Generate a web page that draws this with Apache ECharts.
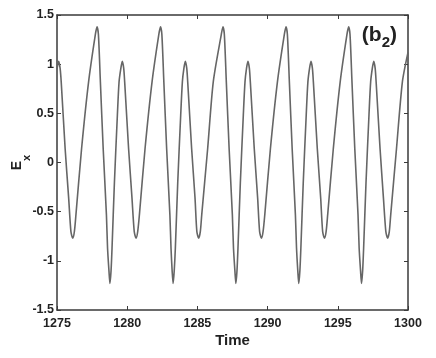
<!DOCTYPE html>
<html>
<head>
<meta charset="utf-8">
<script src="https://cdn.jsdelivr.net/npm/echarts@6/dist/echarts.min.js"></script>
<style>html,body{margin:0;padding:0;background:#fff;}#c{width:436px;height:358px;}</style>
</head>
<body>
<div id="c"></div>
<script>
// Time / E_x samples (extrema, tips and points along the flanks)
var times = [
  1275, 1275.12, 1275.22, 1275.3, 1275.58, 1275.83, 1275.99, 1276.12, 1276.24,
  1276.35, 1276.75, 1277.25, 1277.73, 1277.85, 1277.95, 1278.09, 1278.29, 1278.52, 1278.6, 1278.7, 1278.77, 1278.85, 1278.92, 1279.09, 1279.3, 1279.42, 1279.55, 1279.65, 1279.75, 1279.82, 1280.1, 1280.34, 1280.5, 1280.63, 1280.75,
  1280.87, 1281.27, 1281.77, 1282.25, 1282.37, 1282.47, 1282.61, 1282.81, 1283.04, 1283.12, 1283.2, 1283.27, 1283.35, 1283.43, 1283.6, 1283.81, 1283.93, 1284.04, 1284.14, 1284.24, 1284.31, 1284.59, 1284.83, 1284.96, 1285.09, 1285.21,
  1285.31, 1285.73, 1286.13, 1286.7, 1286.82, 1286.92, 1287.06, 1287.26, 1287.49, 1287.57, 1287.67, 1287.74, 1287.82, 1287.89, 1288.06, 1288.27, 1288.39, 1288.5, 1288.6, 1288.7, 1288.77, 1289.05, 1289.29, 1289.43, 1289.56, 1289.68,
  1289.8, 1290.2, 1290.7, 1291.19, 1291.31, 1291.41, 1291.55, 1291.75, 1291.98, 1292.06, 1292.15, 1292.22, 1292.3, 1292.37, 1292.54, 1292.75, 1292.87, 1292.99, 1293.09, 1293.19, 1293.26, 1293.54, 1293.78, 1293.92, 1294.05, 1294.17,
  1294.28, 1294.68, 1295.17, 1295.65, 1295.77, 1295.87, 1296.01, 1296.21, 1296.44, 1296.52, 1296.62, 1296.69, 1296.77, 1296.84, 1297.01, 1297.22, 1297.34, 1297.46, 1297.56, 1297.66, 1297.73, 1298.01, 1298.25, 1298.42, 1298.55, 1298.67,
  1298.77, 1299.18, 1299.6, 1300
];
var exValues = [
  0.95, 1.03, 0.96, 0.82, 0.14, -0.36, -0.70, -0.77, -0.70,
  -0.53, 0.14, 0.82, 1.30, 1.38, 1.30, 0.82, 0.14, -0.53, -0.87, -1.10, -1.23, -1.10, -0.87, -0.2, 0.48, 0.82, 0.96, 1.03, 0.96, 0.82, 0.14, -0.36, -0.70, -0.77, -0.70,
  -0.53, 0.14, 0.82, 1.30, 1.38, 1.30, 0.82, 0.14, -0.53, -0.87, -1.10, -1.23, -1.10, -0.87, -0.2, 0.48, 0.82, 0.96, 1.03, 0.96, 0.82, 0.14, -0.36, -0.70, -0.77, -0.70,
  -0.53, 0.14, 0.82, 1.30, 1.38, 1.30, 0.82, 0.14, -0.53, -0.87, -1.10, -1.23, -1.10, -0.87, -0.2, 0.48, 0.82, 0.96, 1.03, 0.96, 0.82, 0.14, -0.36, -0.70, -0.77, -0.70,
  -0.53, 0.14, 0.82, 1.30, 1.38, 1.30, 0.82, 0.14, -0.53, -0.87, -1.10, -1.23, -1.10, -0.87, -0.2, 0.48, 0.82, 0.96, 1.03, 0.96, 0.82, 0.14, -0.36, -0.70, -0.77, -0.70,
  -0.53, 0.14, 0.82, 1.30, 1.38, 1.30, 0.82, 0.14, -0.53, -0.87, -1.10, -1.23, -1.10, -0.87, -0.2, 0.48, 0.82, 0.96, 1.03, 0.96, 0.82, 0.14, -0.36, -0.70, -0.77, -0.70,
  -0.53, 0.14, 0.82, 1.12
];
var xTicks = [1275, 1280, 1285, 1290, 1295, 1300];
var yTicks = [-1.5, -1, -0.5, 0, 0.5, 1, 1.5];

var data = times.map(function (t, i) { return [t, exValues[i]]; });
var FONT = 'Liberation Sans';
var AX = '#3a3a3a';
var TXT = '#222';

var chart = echarts.init(document.getElementById('c'), null, {renderer: 'canvas'});
function frame(extra) {
  return Object.assign({
    axisLine: {show: true, onZero: false, lineStyle: {color: AX, width: 1.5}},
    axisTick: {show: true, inside: true, length: 4, lineStyle: {color: AX, width: 1}},
    splitLine: {show: false}
  }, extra);
}
chart.setOption({
  animation: false,
  backgroundColor: '#fff',
  title: {
    text: '{p|(b}{s|2}{p|)}',
    right: 34,
    top: 20,
    textStyle: {
      fontFamily: FONT, fontWeight: 'bold', fontSize: 20, color: TXT,
      rich: {
        p: {fontFamily: FONT, fontWeight: 'bold', fontSize: 21, color: TXT, lineHeight: 25, verticalAlign: 'top'},
        s: {fontFamily: FONT, fontWeight: 'bold', fontSize: 15, color: TXT, lineHeight: 25, verticalAlign: 'bottom'}
      }
    }
  },
  grid: {left: 57, right: 28, top: 15, bottom: 48, containLabel: false, outerBoundsMode: 'none'},
  xAxis: [
    frame({
      type: 'value', min: xTicks[0], max: xTicks[xTicks.length - 1], interval: 5,
      position: 'bottom',
      name: 'Time', nameLocation: 'middle', nameGap: 23, nameMoveOverlap: false,
      nameTextStyle: {fontFamily: FONT, fontWeight: 'bold', fontSize: 15, color: TXT},
      axisLabel: {fontFamily: FONT, fontWeight: 'bold', fontSize: 12.5, color: TXT, margin: 7,
        formatter: function (v) { return String(v); }}
    }),
    frame({
      type: 'value', min: xTicks[0], max: xTicks[xTicks.length - 1], interval: 5,
      position: 'top', axisLabel: {show: false}
    })
  ],
  yAxis: [
    frame({
      type: 'value', min: yTicks[0], max: yTicks[yTicks.length - 1], interval: 0.5,
      position: 'left',
      name: '{e|E}{s|x}', nameLocation: 'middle', nameRotate: 90, nameGap: 25, nameMoveOverlap: false,
      nameTextStyle: {
        fontFamily: FONT, fontWeight: 'bold', color: TXT,
        rich: {
          e: {fontFamily: FONT, fontWeight: 'bold', fontSize: 14, color: TXT, lineHeight: 22, verticalAlign: 'top'},
          s: {fontFamily: FONT, fontWeight: 'bold', fontSize: 11, color: TXT, lineHeight: 22, verticalAlign: 'bottom'}
        }
      },
      axisLabel: {fontFamily: FONT, fontWeight: 'bold', fontSize: 12.5, color: TXT, margin: 3,
        formatter: function (v) { return String(v); }}
    }),
    frame({
      type: 'value', min: yTicks[0], max: yTicks[yTicks.length - 1], interval: 0.5,
      position: 'right', axisLabel: {show: false}
    })
  ],
  series: [{
    type: 'line',
    data: data,
    showSymbol: false,
    smooth: 0.25,
    clip: true,
    lineStyle: {color: '#666666', width: 1.6}
  }]
});
</script>
</body>
</html>
